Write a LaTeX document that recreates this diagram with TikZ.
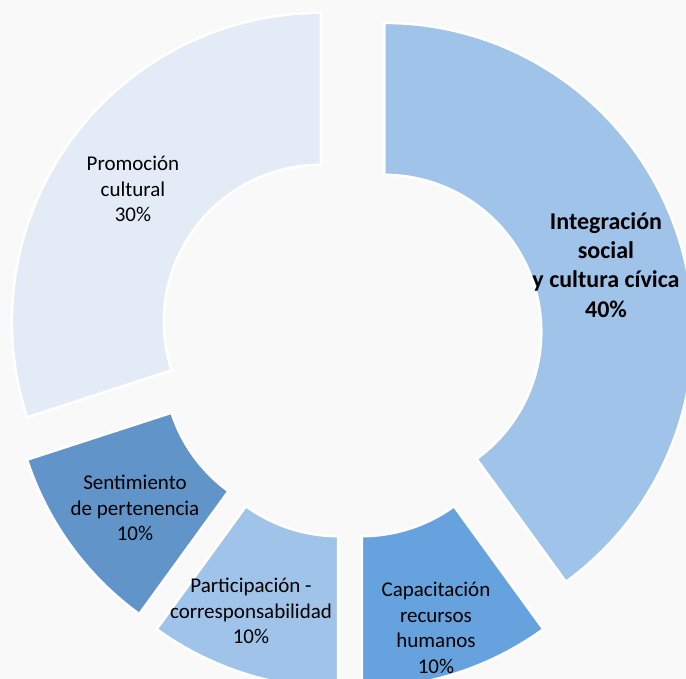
\documentclass[tikz,border=0pt]{standalone}
\usepackage{fontspec}
\setmainfont{Carlito}
\usetikzlibrary{positioning}
\definecolor{paper}{HTML}{F9F9F9}
\definecolor{integ}{HTML}{A0C3E9}
\definecolor{capac}{HTML}{66A2DD}
\definecolor{partic}{HTML}{A0C3E9}
\definecolor{sentim}{HTML}{6195C9}
\definecolor{promo}{HTML}{E2EBF6}
\tikzset{
  slice/.style = { draw=white, line width=1.3pt, fill=#1 },
  share/.style = { align=center, inner sep=0pt, font=\fontsize{10.5}{12.8}\selectfont },
  major/.style = { share, font=\fontsize{12}{14.6}\selectfont\bfseries },
}

\begin{document}
\begin{tikzpicture}[x=0.5pt,y=0.5pt]
  \fill [paper] (-350,-336) rectangle (336,343);
  \clip (-350,-336) rectangle (336,343);

  \foreach \from/\to/\push/\tint in {90/-54/36/integ, -54/-90/38/capac, -90/-126/38/partic,
                                     -126/-162/36/sentim, -162/-270/36/promo} {
    \pgfmathsetmacro\bis{(\from+\to)/2}
    \draw [slice=\tint, shift={(\bis:\push)}]
      (\from:309) arc [start angle=\from, end angle=\to, radius=309]
      -- (\to:157) arc [start angle=\to, end angle=\from, radius=157] -- cycle;
  }

  \node (integ)  [major] at (256,78)    {Integración\\social\\y cultura cívica\\40\%};
  \node (capac)  [share] at (86,-285)   {Capacitación\\recursos\\humanos\\10\%};
  \node (partic) [share] at (-99,-268)  {Participación -\\corresponsabilidad\\10\%};
  \node (sentim) [share] at (-215,-165) {Sentimiento\\de pertenencia\\10\%};
  \node (promo)  [share] at (-217,154)  {Promoción\\cultural\\30\%};

\end{tikzpicture}
\end{document}
